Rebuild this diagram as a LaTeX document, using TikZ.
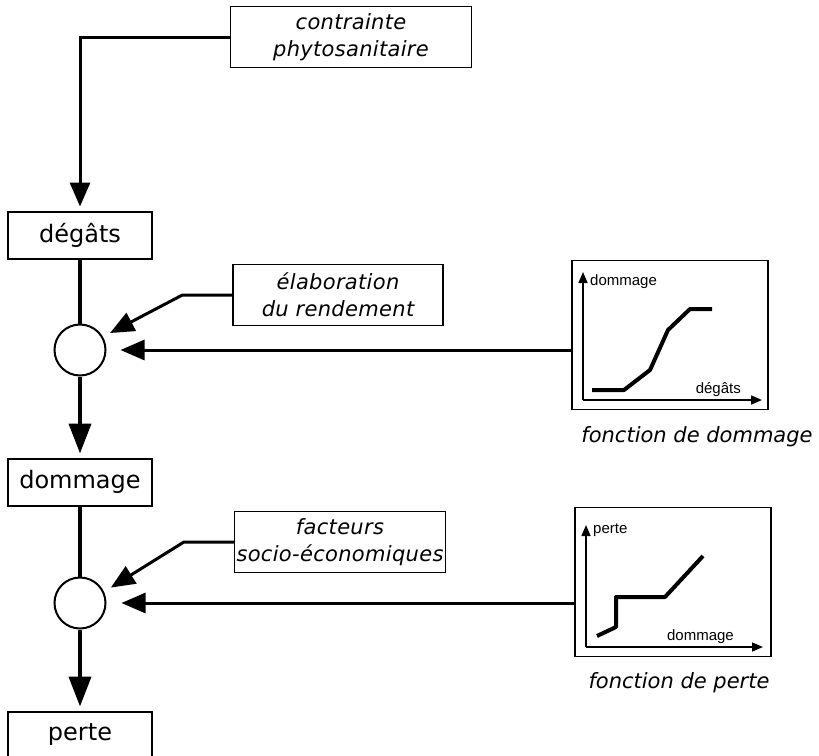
\documentclass[tikz,border=0pt]{standalone}
\usepackage{fontspec}
\setmainfont{DejaVu Sans}
\newfontfamily\axisfont{Liberation Sans}
\usetikzlibrary{positioning,arrows.meta}

\tikzset{
  state/.style={draw, line width=2pt, minimum width=144pt, minimum height=47pt, font=\fontsize{24}{26}\selectfont},
  factor/.style={draw, line width=1.3pt, minimum height=61pt, inner sep=2pt, align=center, font=\fontsize{21}{27}\selectfont\itshape\addfontfeatures{LetterSpace=1.5}},
  op/.style={draw, circle, line width=2pt, minimum size=51pt, inner sep=0pt},
  frame/.style={draw, line width=1.5pt, minimum width=196pt, minimum height=149pt},
  caption/.style={font=\fontsize{21}{25}\selectfont\itshape},
  axislabel/.style={font=\axisfont\fontsize{15}{17}\selectfont, inner sep=1pt},
  flow/.style={line width=4pt, -{Triangle[length=30pt,width=22pt]}},
  feed/.style={line width=3pt, -{Triangle[length=24pt,width=20pt]}},
  axis/.style={line width=1.5pt, -{Triangle[length=11pt,width=9pt]}},
  curve/.style={line width=4pt, line join=round}
}

\begin{document}
\begin{tikzpicture}[x=1pt, y=-1pt]
  \useasboundingbox (0,0) rectangle (819,755);

  % Nodes

  \node[factor, minimum width=241pt] (contrainte) at (351,37) {contrainte\\phytosanitaire}; %
  \node[state]                   (degats)   at (80,235) {dégâts}; %
  \node[op, below=64pt of degats]    (circ1)    {}; %
  \node[state, below=81pt of circ1]  (dommage)  {dommage}; %
  \node[op, below=70pt of dommage]   (circ2)    {}; %
  \node[state, below=81pt of circ2]  (perte)    {perte}; %
  \node[factor, minimum width=210pt] (elab)     at (338,295) {élaboration\\du rendement}; %
  \node[factor, minimum width=207pt] (facteurs) at (340,542) {facteurs\\socio-économiques}; %
  \node[frame] (g1) at (670,335) {}; %
  \node[frame] (g2) at (673,582) {}; %
  \node[caption] (cap1) at (697,437) {fonction de dommage}; %
  \node[caption] (cap2) at (679,683) {fonction de perte}; %

  % Edges
  \draw[feed, shorten >=4pt] (contrainte.west) -| (degats.north);
  \draw[line width=4pt] (degats) -- (circ1);
  \draw[flow, shorten >=4pt] (circ1) -- (dommage);
  \draw[line width=4pt] (dommage) -- (circ2);
  \draw[flow, shorten >=4pt] (circ2) -- (perte);
  \draw[feed, shorten >=8pt] (elab.west) -- ++(-50,0) -- (circ1.30);
  \draw[feed, shorten >=8pt] (facteurs.west) -- ++(-50,0) -- (circ2.25);
  \draw[feed, shorten >=14pt] (circ1 -| g1.west) -- (circ1.east);
  \draw[feed, shorten >=15pt] (circ2 -| g2.west) -- (circ2.east);

  % Graphs
  \draw[axis] (583,400) -- (583,272);
  \draw[axis] (583,400) -- (762,400);
  \node[axislabel, anchor=west] (ylab1) at (589,282) {dommage};
  \node[axislabel, anchor=south east] (xlab1) at (742,398) {dégâts};
  \draw[curve] (592,390) -- (624,390) -- (650,370) -- (668,330) -- (690,309) -- (712,309);

  \draw[axis] (586,647) -- (586,525);
  \draw[axis] (586,647) -- (763,647);
  \node[axislabel, anchor=west] (ylab2) at (592,530) {perte};
  \node[axislabel, anchor=south east] (xlab2) at (735,645) {dommage};
  \draw[curve] (597,636) -- (616,627) -- (616,597) -- (665,597) -- (703,556);
\end{tikzpicture}
\end{document}
